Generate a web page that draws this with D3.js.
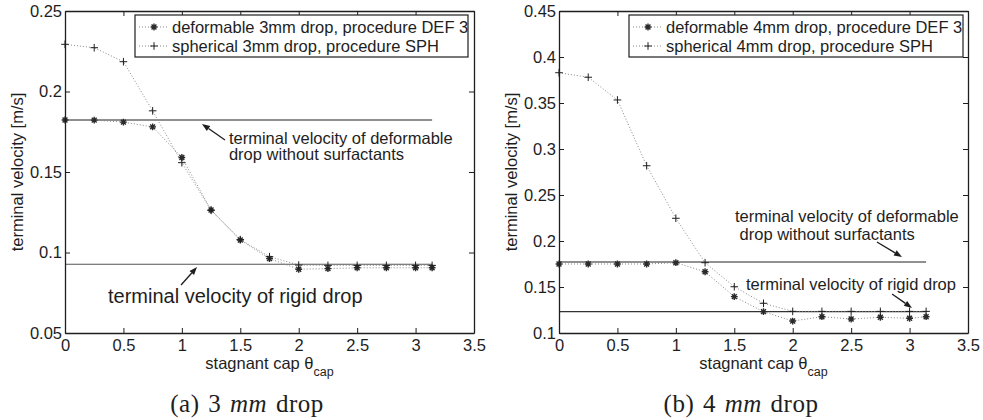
<!DOCTYPE html>
<html>
<head>
<meta charset="utf-8">
<script src="https://cdn.jsdelivr.net/npm/d3@7"></script>
<style>
  html, body { margin: 0; padding: 0; background: #fff; }
  svg { display: block; font-family: "Liberation Sans", Arial, sans-serif; }
</style>
</head>
<body>
<svg id="chart" width="983" height="420"></svg>
<script>
// ---------- data ----------
const thetaCap = [0, 0.25, 0.5, 0.75, 1, 1.25, 1.5, 1.75, 2, 2.25, 2.5, 2.75, 3, 3.1416];

const deformable3 = [0.1823, 0.1822, 0.181, 0.178, 0.159, 0.1264, 0.1078, 0.0962, 0.0896, 0.0900, 0.0905, 0.0905, 0.0905, 0.0905];
const spherical3  = [0.2293, 0.2272, 0.2185, 0.188, 0.1558, 0.1262, 0.1080, 0.0974, 0.0922, 0.0920, 0.0920, 0.0920, 0.0920, 0.0920];

const deformable4 = [0.175, 0.175, 0.175, 0.175, 0.1764, 0.1666, 0.1395, 0.1232, 0.113, 0.1177, 0.1152, 0.1171, 0.116, 0.1177];
const spherical4  = [0.3829, 0.378, 0.3533, 0.2818, 0.2247, 0.1764, 0.1503, 0.1323, 0.1235, 0.1235, 0.1235, 0.1235, 0.1235, 0.1235];

const refDeformable = [0.1823, 0.1772];   // terminal velocity of deformable drop without surfactants (3mm, 4mm)
const refRigid      = [0.0927, 0.1232];   // terminal velocity of rigid drop (3mm, 4mm)
const refSpan       = [0, 3.1416];

const xTicks   = [0, 0.5, 1, 1.5, 2, 2.5, 3, 3.5];
const yTicks3  = [0.05, 0.1, 0.15, 0.2, 0.25];
const yTicks4  = [0.1, 0.15, 0.2, 0.25, 0.3, 0.35, 0.4, 0.45];

const legend3 = ["deformable 3mm drop, procedure DEF 3", "spherical 3mm drop, procedure SPH"];
const legend4 = ["deformable 4mm drop, procedure DEF 3", "spherical 4mm drop, procedure SPH"];
const yLabel = "terminal velocity [m/s]";
const captions = [["(a) 3 ", "mm", " drop"], ["(b) 4 ", "mm", " drop"]];

// ---------- drawing ----------
const svg = d3.select("#chart");
svg.append("rect").attr("width", 983).attr("height", 420).attr("fill", "#fff");

const INK = "#1e1e1e";
const FS = 16.5;

function asteriskPath(r) {
  const d = r * 0.72;
  return `M${-r},0L${r},0M0,${-r}L0,${r}M${-d},${-d}L${d},${d}M${-d},${d}L${d},${-d}`;
}
function plusPath(r) {
  return `M${-r},0L${r},0M0,${-r}L0,${r}`;
}

function drawPanel(cfg) {
  const x = d3.scaleLinear().domain([0, 3.5]).range([cfg.left, cfg.right]);
  const y = d3.scaleLinear().domain(cfg.yDomain).range([333, 11]);
  const g = svg.append("g");

  // horizontal reference lines
  g.append("line")
    .attr("x1", x(refSpan[0])).attr("x2", x(refSpan[1]))
    .attr("y1", y(cfg.refDef)).attr("y2", y(cfg.refDef))
    .attr("stroke", "#222").attr("stroke-width", 1.2);
  g.append("line")
    .attr("x1", x(refSpan[0])).attr("x2", x(refSpan[1]))
    .attr("y1", y(cfg.refRig)).attr("y2", y(cfg.refRig))
    .attr("stroke", cfg.rigColor).attr("stroke-width", 1.2);

  const line = d3.line().x((d, i) => x(thetaCap[i])).y(d => y(d));

  // series lines (dotted)
  [cfg.def, cfg.sph].forEach(s => {
    g.append("path").attr("d", line(s))
      .attr("fill", "none").attr("stroke", "#888").attr("stroke-width", 1)
      .attr("stroke-dasharray", "1,2");
  });

  // markers
  g.append("g").selectAll("path").data(cfg.def).join("path")
    .attr("transform", (d, i) => `translate(${x(thetaCap[i])},${y(d)})`)
    .attr("d", asteriskPath(3.4))
    .attr("stroke", "#2a2a2a").attr("stroke-width", 1.4).attr("fill", "none");
  g.append("g").selectAll("path").data(cfg.sph).join("path")
    .attr("transform", (d, i) => `translate(${x(thetaCap[i])},${y(d)})`)
    .attr("d", plusPath(3.8))
    .attr("stroke", INK).attr("stroke-width", 1).attr("fill", "none");

  // axes (MATLAB-style box with inward ticks)
  const fmt = d => String(+d.toFixed(2));
  const axB = g.append("g").attr("transform", "translate(0,333)")
    .call(d3.axisBottom(x).tickValues(xTicks).tickFormat(fmt).tickSizeInner(-5).tickSizeOuter(0).tickPadding(6));
  const axL = g.append("g").attr("transform", `translate(${cfg.left},0)`)
    .call(d3.axisLeft(y).tickValues(cfg.yTicks).tickFormat(fmt).tickSizeInner(-5).tickSizeOuter(0).tickPadding(3));
  const axT = g.append("g").attr("transform", "translate(0,11)")
    .call(d3.axisTop(x).tickValues(xTicks).tickFormat("").tickSizeInner(-5).tickSizeOuter(0));
  const axR = g.append("g").attr("transform", `translate(${cfg.right},0)`)
    .call(d3.axisRight(y).tickValues(cfg.yTicks).tickFormat("").tickSizeInner(-5).tickSizeOuter(0));
  [axB, axL, axT, axR].forEach(a => {
    a.selectAll("path").attr("stroke", INK).attr("stroke-width", 1.3);
    a.selectAll("line").attr("stroke", INK);
    a.selectAll("text").attr("fill", INK).style("font-size", FS + "px").style("font-family", "Liberation Sans, Arial, sans-serif");
  });

  // legend
  const lg = g.append("g");
  lg.append("rect")
    .attr("x", cfg.legend.x0).attr("y", 15)
    .attr("width", cfg.legend.x1 - cfg.legend.x0).attr("height", 42)
    .attr("fill", "#fff").attr("stroke", INK).attr("stroke-width", 1.2);
  cfg.legendText.forEach((t, i) => {
    const ly = 27 + i * 19;
    lg.append("line")
      .attr("x1", cfg.legend.x0 + 4).attr("x2", cfg.legend.x0 + 33)
      .attr("y1", ly).attr("y2", ly)
      .attr("stroke", "#888").attr("stroke-dasharray", "1,2");
    lg.append("path")
      .attr("transform", `translate(${cfg.legend.x0 + 19},${ly})`)
      .attr("d", i === 0 ? asteriskPath(3.4) : plusPath(3.8))
      .attr("stroke", i === 0 ? "#2a2a2a" : INK).attr("stroke-width", i === 0 ? 1.4 : 1).attr("fill", "none");
    lg.append("text")
      .attr("x", cfg.legend.x0 + 37).attr("y", ly + 6)
      .attr("font-size", FS).attr("fill", INK).text(t);
  });

  // annotations (positions in data coordinates)
  cfg.notes.forEach(n => {
    const t = g.append("text").attr("font-size", n.size).attr("fill", INK);
    n.lines.forEach((s, i) => {
      t.append("tspan").attr("x", x(n.xs[i])).attr("y", y(n.ys[i])).text(s);
    });
    const x1 = x(n.arrow[0]), y1 = y(n.arrow[1]), x2 = x(n.arrow[2]), y2 = y(n.arrow[3]);
    const ang = Math.atan2(y2 - y1, x2 - x1);
    const L = 8, W = 3;
    const bx = x2 - L * Math.cos(ang), by = y2 - L * Math.sin(ang);
    g.append("line").attr("x1", x1).attr("y1", y1).attr("x2", bx).attr("y2", by)
      .attr("stroke", INK).attr("stroke-width", 1.3);
    g.append("path")
      .attr("d", `M${x2},${y2}L${bx + W * Math.sin(ang)},${by - W * Math.cos(ang)}L${bx - W * Math.sin(ang)},${by + W * Math.cos(ang)}Z`)
      .attr("fill", INK);
  });

  // y label
  const cy = 172;
  g.append("text")
    .attr("transform", `translate(${cfg.left - 42},${cy}) rotate(-90)`)
    .attr("text-anchor", "middle").attr("font-size", FS).attr("fill", INK)
    .text(yLabel);

  // x label
  const xl = g.append("text").attr("x", (cfg.left + cfg.right) / 2).attr("y", 369)
    .attr("text-anchor", "middle").attr("font-size", FS).attr("fill", INK);
  xl.append("tspan").text("stagnant cap θ");
  xl.append("tspan").attr("dy", 7).attr("font-size", 12.5).text("cap");

  // caption
  const cp = g.append("text").attr("x", cfg.capX).attr("y", 412)
    .attr("text-anchor", "middle").attr("font-size", 25).attr("fill", INK)
    .attr("letter-spacing", 0.5).attr("word-spacing", 2)
    .style("font-family", "Liberation Serif, 'Times New Roman', serif");
  cp.append("tspan").text(cfg.caption[0]);
  cp.append("tspan").attr("font-style", "italic").text(cfg.caption[1]);
  cp.append("tspan").text(cfg.caption[2]);
}

drawPanel({
  left: 65, right: 474, yDomain: [0.05, 0.25], yTicks: yTicks3,
  def: deformable3, sph: spherical3,
  refDef: refDeformable[0], refRig: refRigid[0], rigColor: "#555",
  legend: { x0: 135, x1: 468 }, legendText: legend3,
  caption: captions[0], capX: 247,
  notes: [
    { lines: ["terminal velocity of deformable", "drop without surfactants"], xs: [1.403, 1.403], ys: [0.1674, 0.1574], size: FS,
      arrow: [1.369, 0.1699, 1.172, 0.1798] },
    { lines: ["terminal velocity of rigid drop"], xs: [0.368], ys: [0.0686], size: 20,
      arrow: [0.993, 0.0798, 1.130, 0.0910] }
  ]
});

drawPanel({
  left: 559, right: 968, yDomain: [0.1, 0.45], yTicks: yTicks4,
  def: deformable4, sph: spherical4,
  refDef: refDeformable[1], refRig: refRigid[1], rigColor: "#333",
  legend: { x0: 629, x1: 963 }, legendText: legend4,
  caption: captions[1], capX: 741,
  notes: [
    { lines: ["terminal velocity of deformable", " drop without surfactants"], xs: [1.506, 1.506], ys: [0.2207, 0.2011], size: FS,
      arrow: [2.721, 0.1989, 2.935, 0.1826] },
    { lines: ["terminal velocity of rigid drop"], xs: [1.600], ys: [0.1467], size: FS,
      arrow: [2.850, 0.1424, 3.021, 0.1272] }
  ]
});
</script>
</body>
</html>
